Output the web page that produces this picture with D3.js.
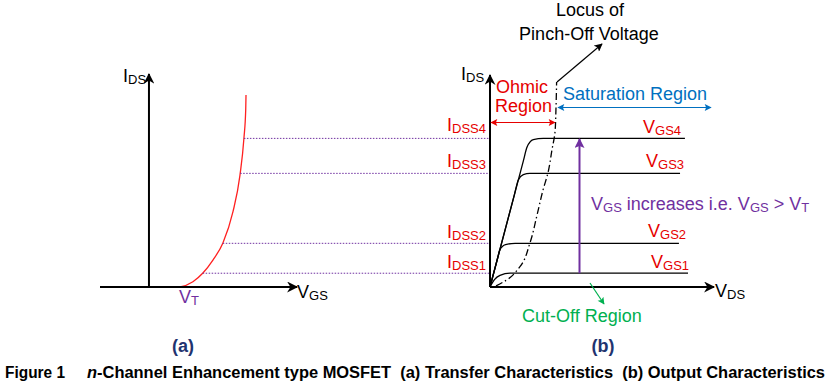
<!DOCTYPE html>
<html><head><meta charset="utf-8">
<script src="https://cdn.jsdelivr.net/npm/d3@7"></script>
<style>
html,body{margin:0;padding:0;background:#fff;}
svg{display:block;font-family:"Liberation Sans",Arial,sans-serif;}
</style></head><body>
<svg id="c" width="830" height="384"></svg>
<script>
// ---------- data ----------
const transferVGS = [1.97, 2.11, 2.99, 3.67, 4.35, 5.03, 5.71, 6.19, 6.46, 6.58, 6.6];
const transferIDS = [0, 0.01, 0.25, 0.66, 1.27, 2.08, 3.54, 5.28, 7.03, 8.35, 9.06];
const VT = 1.97;
const idssLevels = [0.65, 2.06, 5.36, 7.01];
const levelNames = ["1", "2", "3", "4"];
const outVDS = [
  [0, 0.2, 0.45, 0.9, 8.92],
  [0, 0.35, 0.44, 0.7, 1.13, 8.51],
  [0, 1.1, 1.275, 1.5, 1.8, 8.56],
  [0, 1.5, 1.67, 1.95, 2.4, 8.78]
];
const outIDS = [
  [0, 0.35, 0.55, 0.65, 0.65],
  [0, 1.39, 1.75, 2.0, 2.06, 2.06],
  [0, 4.36, 5.05, 5.3, 5.36, 5.36],
  [0, 5.94, 6.6, 6.95, 7.01, 7.01]
];
const locusVDS = [0.27, 0.75, 1.35, 1.8, 2.12, 2.39, 2.61, 2.79, 2.93, 2.97, 3.0];
const locusIDS = [0.05, 0.33, 0.96, 2.08, 3.4, 4.58, 5.38, 6.46, 7.33, 8.35, 9.67];

// ---------- colours ----------
const RED = "#e60000", PURPLE = "#7030a0", BLUE = "#0070c0", GREEN = "#00b050", NAVY = "#1f3470";

const svg = d3.select("#c");
const defs = svg.append("defs");
function marker(id, color, len, wid, shape) {
  defs.append("marker").attr("id", id).attr("viewBox", "0 0 10 10")
    .attr("refX", 9).attr("refY", 5)
    .attr("markerWidth", len).attr("markerHeight", wid)
    .attr("markerUnits", "userSpaceOnUse").attr("orient", "auto-start-reverse")
    .append("path").attr("d", shape || "M0,0L10,5L0,10L3,5Z").attr("fill", color);
}
marker("axA", "#000", 13, 11);
marker("redA", RED, 8, 7, "M0,0L10,5L0,10L2,5Z");
marker("blueA", BLUE, 8, 7, "M0,0L10,5L0,10L2,5Z");
marker("purA", PURPLE, 12, 10, "M0,0L10,5L0,10L2,5Z");
marker("grnA", GREEN, 8, 7, "M0,0L10,5L0,10L2,5Z");
marker("blkA", "#000", 9, 8, "M0,0L10,5L0,10L2,5Z");

// ---------- scales ----------
const xL = d3.scaleLinear().domain([-3.33, 10]).range([100, 296]);
const yS = d3.scaleLinear().domain([0, 10]).range([287, 75]);
const xR = d3.scaleLinear().domain([0, 10]).range([490, 712]);

function axisLine(x1, y1, x2, y2) {
  svg.append("line").attr("x1", x1).attr("y1", y1).attr("x2", x2).attr("y2", y2)
    .attr("stroke", "#000").attr("stroke-width", 2).attr("marker-end", "url(#axA)");
}
function label(x, y, main, sub, color, anchor, size, subSize) {
  const t = svg.append("text").attr("x", x).attr("y", y).attr("fill", color)
    .attr("font-size", size || 18).attr("text-anchor", anchor || "start");
  t.append("tspan").text(main);
  t.append("tspan").attr("font-size", subSize || 13).attr("dy", 2).text(sub);
  return t;
}

// ---------- (a) transfer characteristics ----------
const tPts = transferVGS.map((v, i) => [v, transferIDS[i]]);
const tPath = svg.append("path")
  .attr("d", d3.line().x(d => xL(d[0])).y(d => yS(d[1])).curve(d3.curveMonotoneX)(tPts))
  .attr("fill", "none").attr("stroke", "#ff2020").attr("stroke-width", 1.3);

const node = tPath.node(), L = node.getTotalLength();
function xAtY(py) {
  let best = null, bd = 1e9;
  for (let s = 0; s <= L; s += 0.25) {
    const p = node.getPointAtLength(s);
    const d = Math.abs(p.y - py);
    if (d < bd) { bd = d; best = p.x; }
  }
  return best;
}
idssLevels.forEach(v => {
  svg.append("line").attr("x1", xAtY(yS(v))).attr("x2", xR(0))
    .attr("y1", yS(v)).attr("y2", yS(v))
    .attr("stroke", PURPLE).attr("stroke-width", 1).attr("stroke-dasharray", "1.5,1.5");
});

axisLine(xL(0), yS(0), xL(0), 74);
axisLine(xL(-3.33), yS(0), 297, yS(0));
label(123, 82, "I", "DS", "#000");
label(297, 298, "V", "GS", "#000");
label(xL(VT) + 1, 303, "V", "T", PURPLE);

// ---------- (b) output characteristics ----------
const lineFn = d3.line().x(d => xR(d[0])).y(d => yS(d[1])).curve(d3.curveMonotoneX);
outVDS.forEach((xs, k) => {
  const pts = xs.map((v, i) => [v, outIDS[k][i]]);
  svg.append("path").attr("d", lineFn(pts)).attr("fill", "none")
    .attr("stroke", "#000").attr("stroke-width", 1.3);
});
const lPts = locusVDS.map((v, i) => [v, locusIDS[i]]);
svg.append("path")
  .attr("d", d3.line().x(d => xR(d[0])).y(d => yS(d[1])).curve(d3.curveMonotoneY)(lPts))
  .attr("fill", "none").attr("stroke", "#000").attr("stroke-width", 1.3)
  .attr("stroke-dasharray", "7,3,1.5,3");

axisLine(xR(0), yS(0), xR(0), 75);
axisLine(xR(0), yS(0), 714, yS(0));
label(461, 80, "I", "DS", "#000");
label(715, 297, "V", "DS", "#000");

const idssDy = [-5, -5, -6, -7];
const vgsX = [651, 648, 646, 643];
const vgsDy = [-5, -6, -6, -5];
idssLevels.forEach((v, i) => {
  label(486, yS(v) + idssDy[i], "I", "DSS" + levelNames[i], RED, "end", 18, 13);
  label(vgsX[i], yS(v) + vgsDy[i], "V", "GS" + levelNames[i], RED, "start", 18, 13);
});

// Ohmic / Saturation
svg.append("text").attr("x", 496).attr("y", 93).attr("fill", RED).attr("font-size", 18).text("Ohmic");
svg.append("text").attr("x", 495).attr("y", 112).attr("fill", RED).attr("font-size", 18).text("Region");
svg.append("line").attr("x1", 491).attr("x2", 555).attr("y1", 122.5).attr("y2", 122.5)
  .attr("stroke", RED).attr("stroke-width", 1.2)
  .attr("marker-start", "url(#redA)").attr("marker-end", "url(#redA)");
svg.append("text").attr("x", 563).attr("y", 100).attr("fill", BLUE).attr("font-size", 18).text("Saturation Region");
svg.append("line").attr("x1", 558).attr("x2", 711).attr("y1", 107.5).attr("y2", 107.5)
  .attr("stroke", BLUE).attr("stroke-width", 1.2)
  .attr("marker-start", "url(#blueA)").attr("marker-end", "url(#blueA)");

// Locus annotation
svg.append("text").attr("x", 590).attr("y", 16).attr("text-anchor", "middle").attr("font-size", 18).attr("fill", "#000").text("Locus of");
svg.append("text").attr("x", 589).attr("y", 40).attr("text-anchor", "middle").attr("font-size", 18).attr("fill", "#000").text("Pinch-Off Voltage");
svg.append("line").attr("x1", 557).attr("y1", 82).attr("x2", 602).attr("y2", 44)
  .attr("stroke", "#000").attr("stroke-width", 1.2).attr("marker-end", "url(#blkA)");

// VGS increases arrow
svg.append("line").attr("x1", 579.5).attr("x2", 579.5).attr("y1", yS(idssLevels[0])).attr("y2", 139)
  .attr("stroke", PURPLE).attr("stroke-width", 2).attr("marker-end", "url(#purA)");
const pt = svg.append("text").attr("x", 591).attr("y", 210).attr("fill", PURPLE).attr("font-size", 18);
pt.append("tspan").text("V");
pt.append("tspan").attr("font-size", 13).attr("dy", 2).text("GS");
pt.append("tspan").attr("dy", -2).text(" increases i.e. V");
pt.append("tspan").attr("font-size", 13).attr("dy", 2).text("GS");
pt.append("tspan").attr("dy", -2).text(" > V");
pt.append("tspan").attr("font-size", 13).attr("dy", 2).text("T");

// Cut-off region
svg.append("line").attr("x1", 590).attr("y1", 283).attr("x2", 604).attr("y2", 304)
  .attr("stroke", GREEN).attr("stroke-width", 1.2).attr("marker-end", "url(#grnA)");
svg.append("text").attr("x", 522).attr("y", 322).attr("fill", GREEN).attr("font-size", 18).text("Cut-Off Region");

// (a) (b) and caption
svg.append("text").attr("x", 183).attr("y", 352).attr("text-anchor", "middle").attr("font-weight", "bold")
  .attr("font-size", 18).attr("fill", NAVY).text("(a)");
svg.append("text").attr("x", 603).attr("y", 352).attr("text-anchor", "middle").attr("font-weight", "bold")
  .attr("font-size", 18).attr("fill", NAVY).text("(b)");

const capFont = "'Liberation Sans',Arial,sans-serif";
svg.append("text").attr("x", 5).attr("y", 378).attr("font-weight", "bold").attr("font-size", 16)
  .style("font-family", capFont).attr("textLength", 60).attr("lengthAdjust", "spacingAndGlyphs").text("Figure 1");
const cap = svg.append("text").attr("x", 87).attr("y", 378).attr("font-weight", "bold").attr("font-size", 16)
  .style("font-family", capFont).style("white-space", "pre")
  .attr("textLength", 738).attr("lengthAdjust", "spacingAndGlyphs");
cap.append("tspan").attr("font-style", "italic").text("n");
cap.append("tspan").text("-Channel Enhancement type MOSFET  (a) Transfer Characteristics  (b) Output Characteristics");
</script>
</body></html>
